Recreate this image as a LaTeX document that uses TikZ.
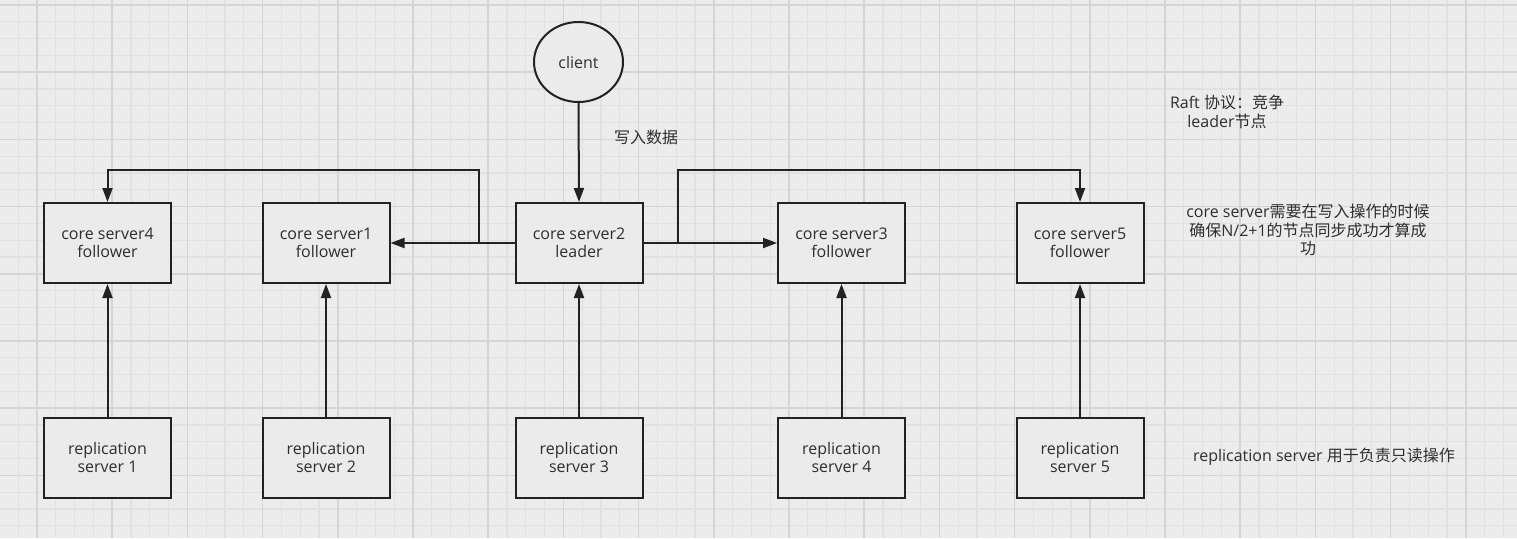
\documentclass[tikz,border=0pt]{standalone}
\usepackage{fontspec}
\setmainfont{Open Sans}
\newfontfamily\cjk{Noto Sans CJK SC}
\usetikzlibrary{arrows.meta,shapes.geometric}
\definecolor{bgcol}{HTML}{ECECEC}
\definecolor{minorcol}{HTML}{E1E1E1}
\definecolor{majorcol}{HTML}{D5D5D5}
\definecolor{boxcol}{HTML}{EBEBEB}
\definecolor{linecol}{HTML}{222222}
\definecolor{textcol}{HTML}{2E2E2E}
\tikzset{
    corebox/.style={draw=linecol, line width=2pt, fill=boxcol, minimum width=127pt,
        minimum height=80pt, inner sep=0pt, align=center, text=textcol,
        font=\fontsize{16}{18}\selectfont},
    link/.style={draw=linecol, line width=2pt, -{Triangle[length=14pt,width=10pt]}},
    note/.style={align=center, text=textcol, font=\fontsize{16}{18.5}\selectfont}
}
\begin{document}
\begin{tikzpicture}[x=1pt,y=-1pt]
    % Background and grid
    \fill[bgcol] (0,0) rectangle (1517,538);
    \useasboundingbox (0,0) rectangle (1517,538);
    \foreach \i in {0,...,81}
        \draw[minorcol, line width=1.2pt] ({-0.6+18.8*\i},0) -- ++(0,538);
    \foreach \j in {0,...,31}
        \draw[minorcol, line width=1.2pt] (0,{5+16.8*\j}) -- ++(1517,0);
    \foreach \i in {0,...,19}
        \draw[majorcol, line width=1.6pt] ({37+75.2*\i},0) -- ++(0,538);
    \foreach \j in {0,...,7}
        \draw[majorcol, line width=1.6pt] (0,{5+67.2*\j}) -- ++(1517,0);

    % Client
    \node[ellipse, draw=linecol, line width=2pt, fill=boxcol, minimum width=89pt,
        minimum height=80pt, inner sep=0pt, text=textcol, font=\fontsize{16}{18}\selectfont]
        (client) at (578.5,62) {client};

    % Core servers
    \node[corebox] (cs4) at (107.5,243) {core server4\\follower};
    \node[corebox] (cs1) at (326,243) {core server1\\follower};
    \node[corebox] (cs2) at (579,243) {core server2\\leader};
    \node[corebox] (cs3) at (841.5,243) {core server3\\follower};
    \node[corebox] (cs5) at (1080,243) {core server5\\follower};

    % Replication servers
    \foreach \n/\x [count=\k] in {cs4/107.5, cs1/326, cs2/579, cs3/841.5, cs5/1080} {
        \node[corebox] (rs\k) at (\x,457.5) {replication\\server \k};
        \draw[link] (rs\k.north) -- (\n.south);
    }

    % Write path
    \draw[link] (client.south) -- (cs2.north);
    \node[note, font=\cjk\fontsize{16}{18}\selectfont] (write) at (646,137) {写入数据};

    % Leader to followers
    \coordinate (lsplit) at (479,243);
    \coordinate (ltop) at (479,170);
    \coordinate (rsplit) at (678,243);
    \coordinate (rtop) at (678,170);
    \draw[link] (cs2.west) -- (cs1.east);
    \draw[link] (cs2.east) -- (cs3.west);
    \draw[link] (lsplit) -- (ltop) -| (cs4.north);
    \draw[link] (rsplit) -- (rtop) -| (cs5.north);

    % Notes
    \node[note] (raft) at (1227,112) {Raft {\cjk 协议：竞争}\\leader{\cjk 节点}};
    \node[note] (quorum) at (1308,230) {core server{\cjk 需要在写入操作的时候}\\{\cjk 确保}N/2+1{\cjk 的节点同步成功才算成}\\{\cjk 功}};
    \node[note] (readonly) at (1324,457) {replication server {\cjk 用于负责只读操作}};
\end{tikzpicture}
\end{document}
